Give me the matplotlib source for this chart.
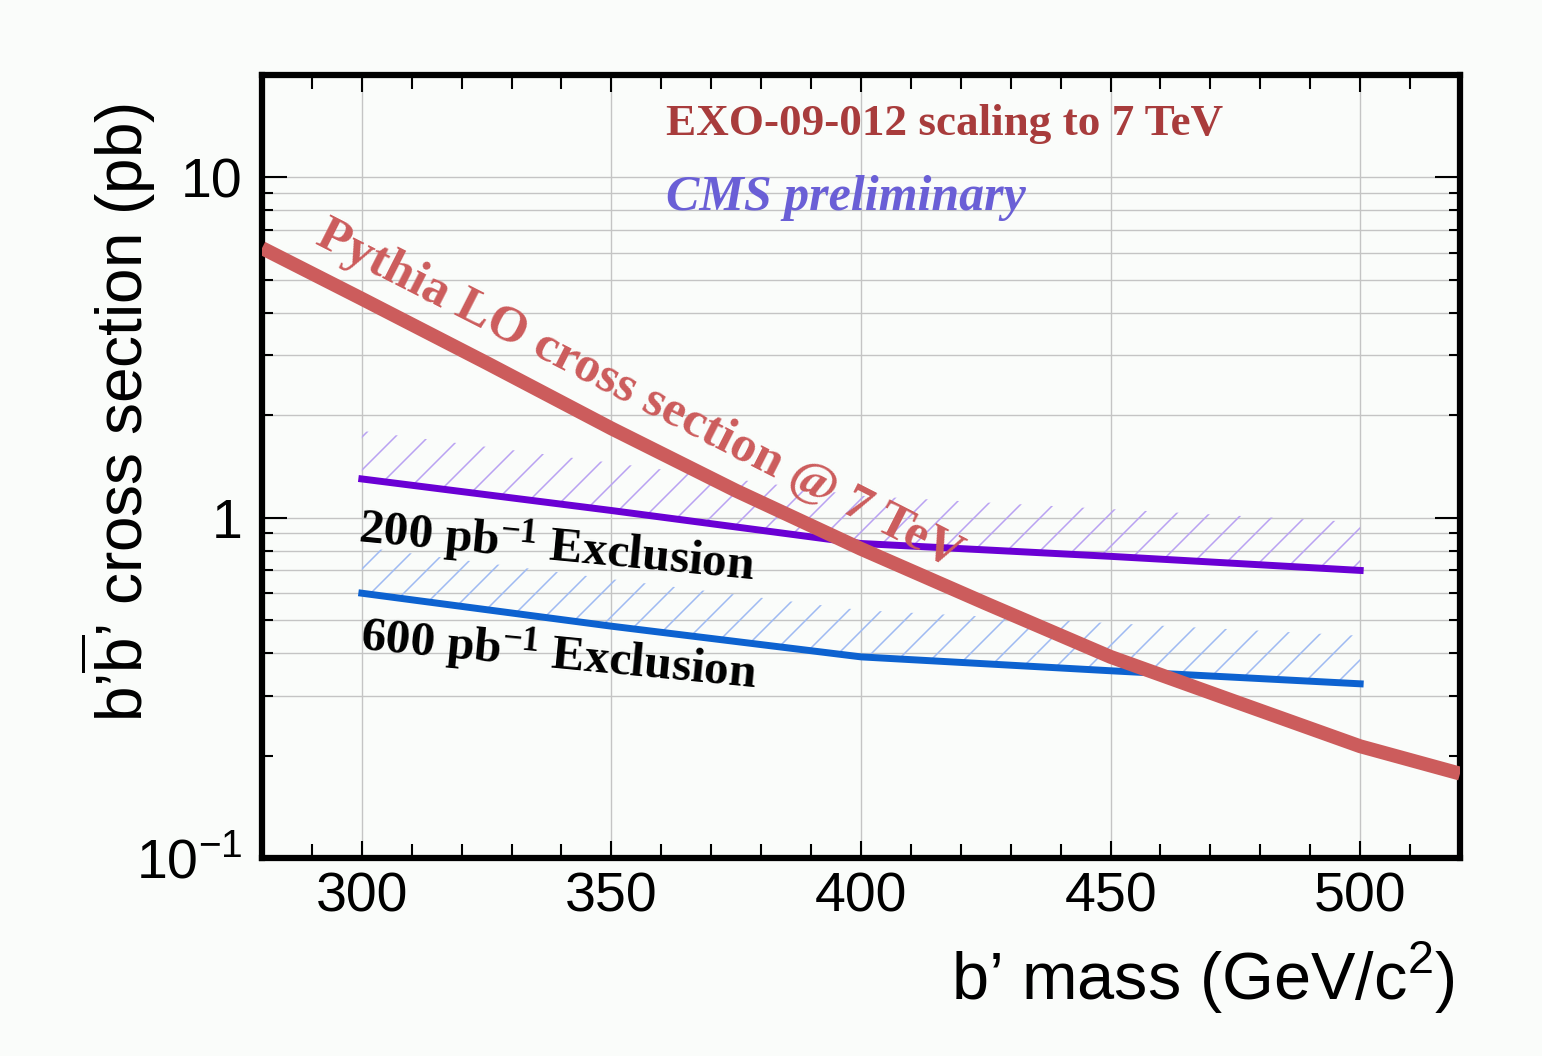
import numpy as np
import matplotlib.pyplot as plt
from matplotlib.collections import LineCollection
from matplotlib.transforms import IdentityTransform
from matplotlib.ticker import FixedLocator, FixedFormatter, MultipleLocator, NullFormatter

plt.rcParams['mathtext.fontset'] = 'custom'
plt.rcParams['mathtext.rm'] = 'Liberation Sans'
plt.rcParams['mathtext.bf'] = 'Liberation Serif:bold'

# Pythia LO cross section @ 7 TeV (pb)
mass_lo = [280, 300, 325, 350, 375, 400, 425, 450, 475, 500, 520]
xsec_lo = [6.2, 4.4, 2.85, 1.83, 1.2, 0.81, 0.56, 0.39, 0.288, 0.213, 0.177]

# expected exclusion limits (pb)
mass_lim = [300, 350, 400, 450, 500]
lim_200 = [1.30, 1.05, 0.84, 0.77, 0.70]
lim_200_up = [1.80, 1.45, 1.16, 1.06, 0.97]
lim_600 = [0.60, 0.48, 0.39, 0.355, 0.325]
lim_600_up = [0.82, 0.66, 0.535, 0.49, 0.45]

grid_y = [0.3, 0.4, 0.5, 0.6, 0.7, 0.8, 0.9, 1, 2, 3, 4, 5, 6, 7, 8, 9, 10]
minor_y = [0.2, 0.3, 0.4, 0.5, 0.6, 0.7, 0.8, 0.9, 2, 3, 4, 5, 6, 7, 8, 9, 20]

bg = '#fafcfa'
fig = plt.figure(figsize=(15.42, 10.56), dpi=100, facecolor=bg)
ax = fig.add_axes([262 / 1542, 1 - 858 / 1056, (1460 - 262) / 1542, (858 - 75) / 1056])
ax.set_facecolor(bg)
ax.set_yscale('log')
ax.set_xlim(280, 520)
ax.set_ylim(0.1, 20)

# grid
for v in grid_y:
    ax.axhline(v, color='#c4c4c4', lw=1.0, zorder=0)
for v in [300, 350, 400, 450, 500]:
    ax.axvline(v, color='#c4c4c4', lw=1.0, zorder=0)


def hatch_band(x, lo, hi, color, step=33):
    band = ax.fill_between(x, lo, hi, facecolor='none', edgecolor='none')
    x0, y0, w, h = ax.bbox.bounds
    segs = [[(x0 + c, y0), (x0 + c + h, y0 + h)] for c in np.arange(-h, w, step)]
    lc = LineCollection(segs, colors=color, linewidths=1.1, transform=IdentityTransform(), zorder=1)
    ax.add_collection(lc, autolim=False)
    lc.set_clip_path(band.get_paths()[0], band.get_transform())


hatch_band(mass_lim, lim_200, lim_200_up, '#b9a2f2')
hatch_band(mass_lim, lim_600, lim_600_up, '#9fbaf2')

ax.plot(mass_lim, lim_200, color='#6a00d4', lw=5, zorder=3)
ax.plot(mass_lim, lim_600, color='#0d62d0', lw=5, zorder=3)
ax.plot(mass_lo, xsec_lo, color='#cc5c5c', lw=10, zorder=4, solid_capstyle='butt')

# axes style
for s in ax.spines.values():
    s.set_linewidth(4.5)
ax.xaxis.set_major_locator(MultipleLocator(50))
ax.xaxis.set_minor_locator(MultipleLocator(10))
ax.yaxis.set_major_locator(FixedLocator([0.1, 1, 10]))
ax.yaxis.set_major_formatter(FixedFormatter(['$10^{-1}$', '1', '10']))
ax.yaxis.set_minor_locator(FixedLocator(minor_y))
ax.yaxis.set_minor_formatter(NullFormatter())
ax.tick_params(which='both', direction='in', top=True, right=True, width=1.5,
               labelsize=40, colors='black')
ax.tick_params(axis='x', which='major', length=12, pad=10)
ax.tick_params(axis='x', which='minor', length=10)
ax.tick_params(axis='y', which='major', length=18, pad=14)
ax.tick_params(axis='y', which='minor', length=8)
for lab in ax.get_xticklabels() + ax.get_yticklabels():
    lab.set_fontfamily('Liberation Sans')

fig.text(1455 / 1542, 1 - 978 / 1056, 'b\u2019 mass (GeV/c$^2$)', ha='right', va='center',
         fontsize=48, family='Liberation Sans')
fig.text(118 / 1542, 1 - 412 / 1056, 'b\u2019$\\overline{\\mathrm{b}}$\u2019 cross section (pb)',
         rotation=90, ha='center', va='center', fontsize=46, family='Liberation Sans')

serif = dict(family='Liberation Serif', weight='bold')
ax.text(361, 13.3, 'EXO-09-012 scaling to 7 TeV', color='#a83c3c', fontsize=32.5, **serif)
ax.text(361, 8.0, 'CMS preliminary', color='#6a5fd6', fontsize=36, style='italic', **serif)
ax.text(290.5, 6.4, 'Pythia LO cross section @ 7 TeV', color='#cc5c5c', fontsize=37,
        rotation=-27, rotation_mode='anchor', ha='left', va='baseline', **serif)
ax.text(299, 0.85, '200 pb$\\mathbf{^{-1}}$ Exclusion', color='black', fontsize=35.5,
        rotation=-5.5, rotation_mode='anchor', ha='left', va='baseline', zorder=5, **serif)
ax.text(299.5, 0.41, '600 pb$\\mathbf{^{-1}}$ Exclusion', color='black', fontsize=35.5,
        rotation=-5.5, rotation_mode='anchor', ha='left', va='baseline', zorder=5, **serif)

fig.savefig('out.png', dpi=100, facecolor=bg)
